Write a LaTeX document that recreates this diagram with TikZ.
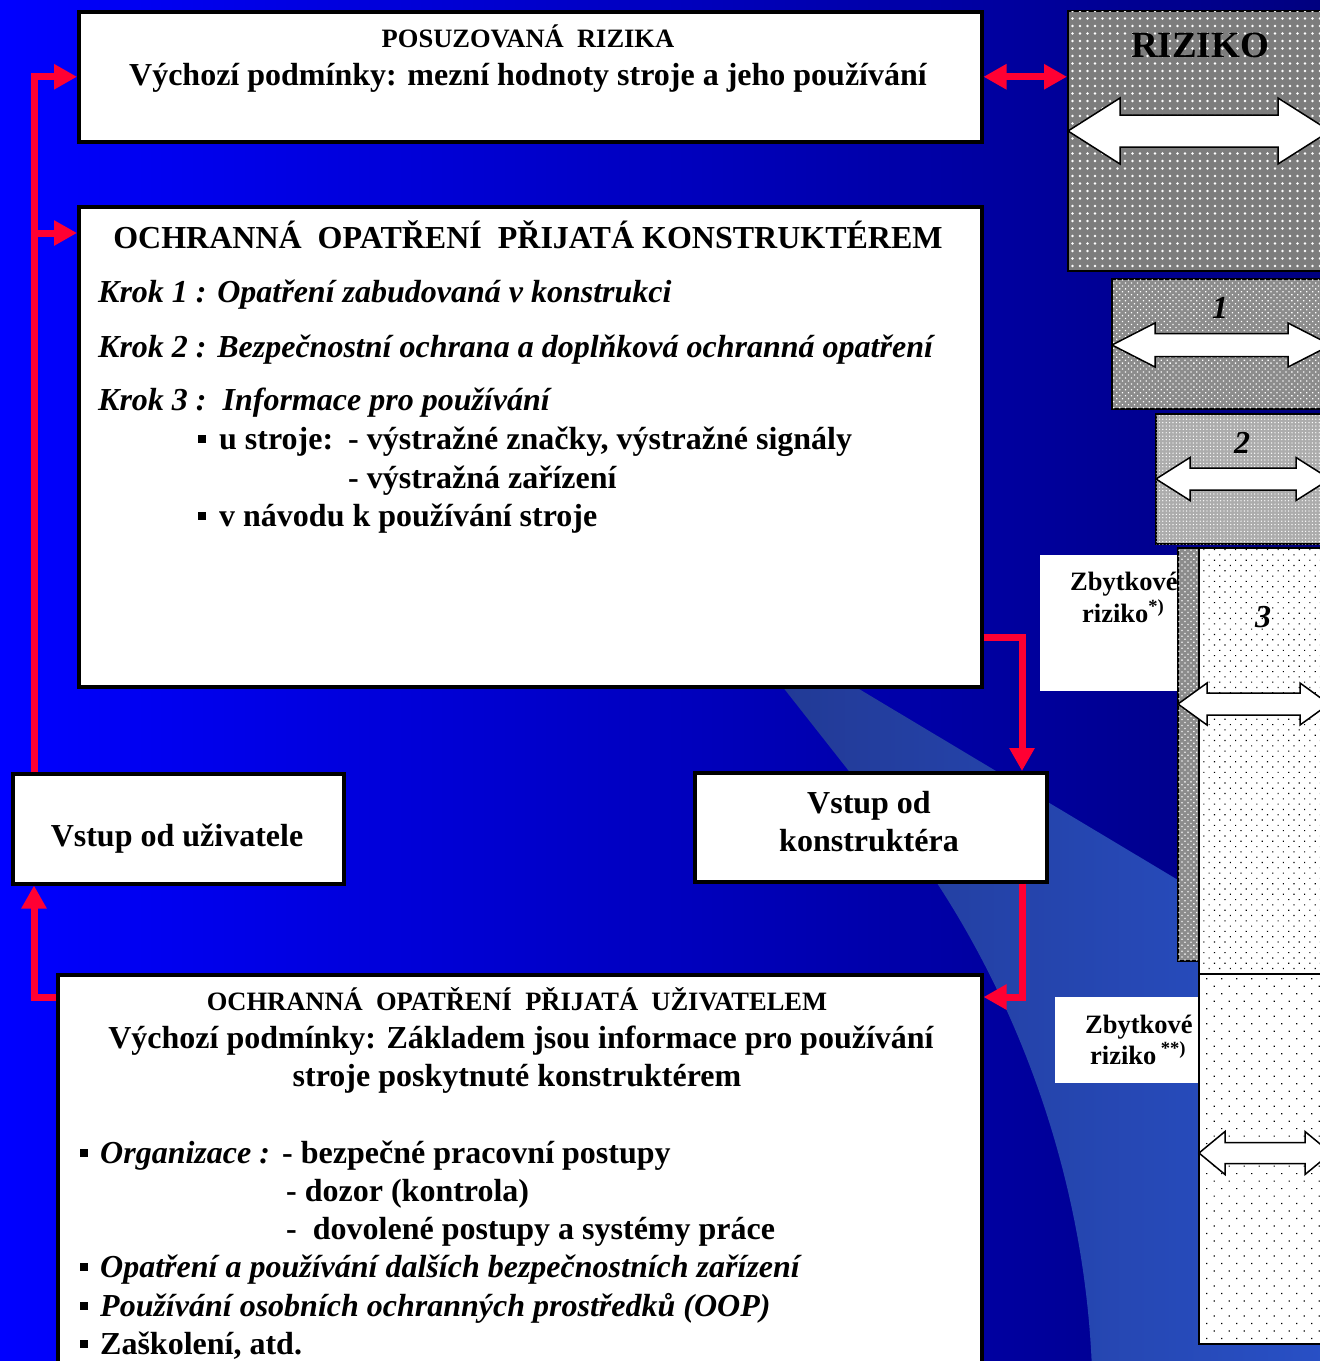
\documentclass[tikz,border=0pt]{standalone}
\usepackage{fontspec}
\setmainfont{Liberation Serif}
\usetikzlibrary{arrows.meta,patterns.meta}
\definecolor{redc}{RGB}{255,0,51}
\definecolor{bgL}{RGB}{0,0,255}
\definecolor{bgR}{RGB}{0,0,128}
\definecolor{swL}{RGB}{34,58,150}
\definecolor{swR}{RGB}{40,80,198}
\definecolor{gA}{RGB}{125,125,125}
\definecolor{gB}{RGB}{140,140,140}
\definecolor{gC}{RGB}{172,172,172}
\newcommand\sqb{\raisebox{6pt}{\rule{8pt}{8pt}}}
\newcommand\dblarr[6]{%
  \filldraw[fill=white, draw=black, line width=1.5pt, line join=miter]
  (#1,#3) -- ({#1+#6},{#3-#5}) -- ({#1+#6},{#3-#4}) -- ({#2-#6},{#3-#4})
  -- ({#2-#6},{#3-#5}) -- (#2,#3) -- ({#2-#6},{#3+#5}) -- ({#2-#6},{#3+#4})
  -- ({#1+#6},{#3+#4}) -- ({#1+#6},{#3+#5}) -- cycle;}
\begin{document}
\begin{tikzpicture}[x=1pt,y=-1pt,
  box/.style={draw=black, line width=3.5pt, fill=white, inner sep=0pt, anchor=north west},
  t32/.style={inner sep=0pt, font=\fontsize{32}{38}\selectfont\bfseries},
  t32i/.style={inner sep=0pt, font=\fontsize{32}{38}\selectfont\bfseries\itshape},
  t26/.style={inner sep=0pt, font=\fontsize{26.5}{32}\selectfont\bfseries},
  rline/.style={draw=redc, line width=7pt},
  rarrow/.style={rline, -{Triangle[length=23pt,width=24pt]}},
  rbox/.style={draw=black, line width=2pt, inner sep=0pt, anchor=north west},
  lbl/.style={fill=white, inner sep=0pt, anchor=north west}]
\useasboundingbox (0,0) rectangle (1320,1361);
\clip (0,0) rectangle (1320,1361);
% background
\shade[left color=bgL, right color=bgR] (0,0) rectangle (1320,1361);
\shade[left color=swL, right color=swR] (782,686) -- (854,686) -- (1330,971) -- (1330,1370) -- (1092,1370) .. controls (1085,1180) and (1020,1010) .. (937,883) -- cycle;

% main boxes
\node[box, minimum width=903pt, minimum height=130pt] (b1) at (77,10) {};
\node[box, minimum width=903pt, minimum height=480pt] (b2) at (77,205) {};
\node[box, minimum width=331pt, minimum height=110pt] (ub) at (11,772) {};
\node[box, minimum width=352pt, minimum height=109pt] (cb) at (693,771) {};
\node[box, minimum width=924pt, minimum height=420pt] (b5) at (56,973) {};

% box 1 text
\node[t26, anchor=base] (b1t) at (528,47) {POSUZOVANÁ\ \ RIZIKA};
\node[t32, anchor=base] (b1s) at (528,85) {Výchozí podmínky: mezní hodnoty stroje a jeho používání};

% box 2 text
\node[t32, anchor=base] (b2t) at (528,248) {OCHRANNÁ\ \ OPATŘENÍ\ \ PŘIJATÁ KONSTRUKTÉREM};
\node[t32i, anchor=base west] (k1) at (98,302) {Krok 1 : Opatření zabudovaná v konstrukci};
\node[t32i, anchor=base west] (k2) at (98,357) {Krok 2 : Bezpečnostní ochrana a doplňková ochranná opatření};
\node[t32i, anchor=base west] (k3) at (98,410) {Krok 3 :\ \ Informace pro používání};
\node[t32, anchor=base west] (k3a) at (198,449) {\sqb\hspace{13pt}u stroje:};
\node[t32, anchor=base west] (k3b) at (348,449) {- výstražné značky, výstražné signály};
\node[t32, anchor=base west] (k3c) at (348,488) {- výstražná zařízení};
\node[t32, anchor=base west] (k3d) at (198,526) {\sqb\hspace{13pt}v návodu k používání stroje};

% input boxes text
\node[t32, anchor=base] (ubt) at (177,846) {Vstup od uživatele};
\node[t32, anchor=base] (cbt1) at (869,813) {Vstup od};
\node[t32, anchor=base] (cbt2) at (869,851) {konstruktéra};

% bottom box text
\node[t26, anchor=base] (b5t) at (517,1010) {OCHRANNÁ\ \ OPATŘENÍ\ \ PŘIJATÁ\ \ UŽIVATELEM};
\node[t32, anchor=base] (b5s1) at (521,1048) {Výchozí podmínky: Základem jsou informace pro používání};
\node[t32, anchor=base] (b5s2) at (517,1086) {stroje poskytnuté konstruktérem};
\node[t32, anchor=base west] (o1) at (80,1163) {\sqb\hspace{12pt}\itshape Organizace :};
\node[t32, anchor=base west] (o1b) at (282,1163) {- bezpečné pracovní postupy};
\node[t32, anchor=base west] (o2) at (286,1201) {- dozor (kontrola)};
\node[t32, anchor=base west] (o3) at (286,1239) {-\ \ dovolené postupy a systémy práce};
\node[t32, anchor=base west] (o4) at (80,1277) {\sqb\hspace{12pt}\itshape Opatření a používání dalších bezpečnostních zařízení};
\node[t32, anchor=base west] (o5) at (80,1316) {\sqb\hspace{12pt}\itshape Používání osobních ochranných prostředků (OOP)};
\node[t32, anchor=base west] (o6) at (80,1354) {\sqb\hspace{12pt}Zaškolení, atd.};

% right side: risk blocks
\node[rbox, fill=gA, minimum width=265pt, minimum height=260pt,
  postaction={pattern={Dots[distance=7.5pt,radius=1.3pt]}, pattern color=white}] (rz) at (1067,10) {};
\node[inner sep=0pt, anchor=base, font=\fontsize{37}{40}\selectfont\bfseries] (rzt) at (1200,57) {RIZIKO};
\dblarr{1068}{1330}{131}{16}{33}{52}

\node[rbox, fill=gB, minimum width=220pt, minimum height=130pt,
  postaction={pattern={Dots[distance=4.2pt,angle=45,radius=0.9pt]}, pattern color=white}] (r1) at (1111,278) {};
\node[t32i, anchor=base] (r1t) at (1220,318) {1};
\dblarr{1112}{1331}{345}{11.5}{22}{43}

\node[rbox, fill=gC, minimum width=175pt, minimum height=130pt,
  postaction={pattern={Dots[distance=3.4pt,radius=0.7pt]}, pattern color=white}] (r2) at (1155,413) {};
\node[t32i, anchor=base] (r2t) at (1242,453) {2};
\dblarr{1156}{1330}{479}{11}{21.5}{34}

% residual risk labels and column
\node[lbl, minimum width=137pt, minimum height=136pt] (z1) at (1040,555) {};
\node[t26, anchor=base west] (z1a) at (1070,590) {Zbytkové};
\node[t26, anchor=base west] (z1b) at (1082,622) {riziko\textsuperscript{*)}};

\node[rbox, fill=gB, minimum width=21pt, minimum height=413pt,
  postaction={pattern={Dots[distance=4.2pt,angle=45,radius=0.9pt]}, pattern color=white}] (r3s) at (1177,547) {};
\node[rbox, fill=white, minimum width=135pt, minimum height=426pt,
  postaction={pattern={Dots[distance=7.5pt,angle=45,radius=0.8pt]}, pattern color=black}] (r3) at (1198,547) {};
\node[t32i, anchor=base] (r3t) at (1263,627) {3};
\dblarr{1178}{1329}{704}{11}{21}{29}

\node[rbox, fill=white, minimum width=135pt, minimum height=370pt,
  postaction={pattern={Dots[distance=10.6pt,angle=45,radius=0.85pt]}, pattern color=black}] (r4) at (1198,973) {};
\dblarr{1199}{1331}{1153}{10.5}{21.5}{26}

\node[lbl, minimum width=143pt, minimum height=86pt] (z2) at (1055,997) {};
\node[t26, anchor=base west] (z2a) at (1085,1033) {Zbytkové};
\node[t26, anchor=base west] (z2b) at (1090,1064) {riziko\,\textsuperscript{**)}};

% red connectors
\coordinate (lx) at (34,0);
\coordinate (rx) at (1022,0);
\coordinate (y2) at (0,233);
\coordinate (yb) at (0,997);
\coordinate (yr) at (0,637);
\draw[rarrow] (ub.north -| lx) |- (b1.west);
\draw[rarrow] (lx |- y2) -- (b2.west |- y2);
\draw[rarrow] (b5.west |- yb) -| (ub.south -| lx);
\draw[rarrow] (b2.east |- yr) -| (cb.north -| rx);
\draw[rarrow] (cb.south -| rx) |- (b5.east |- yb);
\draw[rline, {Triangle[length=23pt,width=24pt]}-{Triangle[length=23pt,width=24pt]}] (b1.east) -- (rz.west |- b1.east);
\end{tikzpicture}
\end{document}
